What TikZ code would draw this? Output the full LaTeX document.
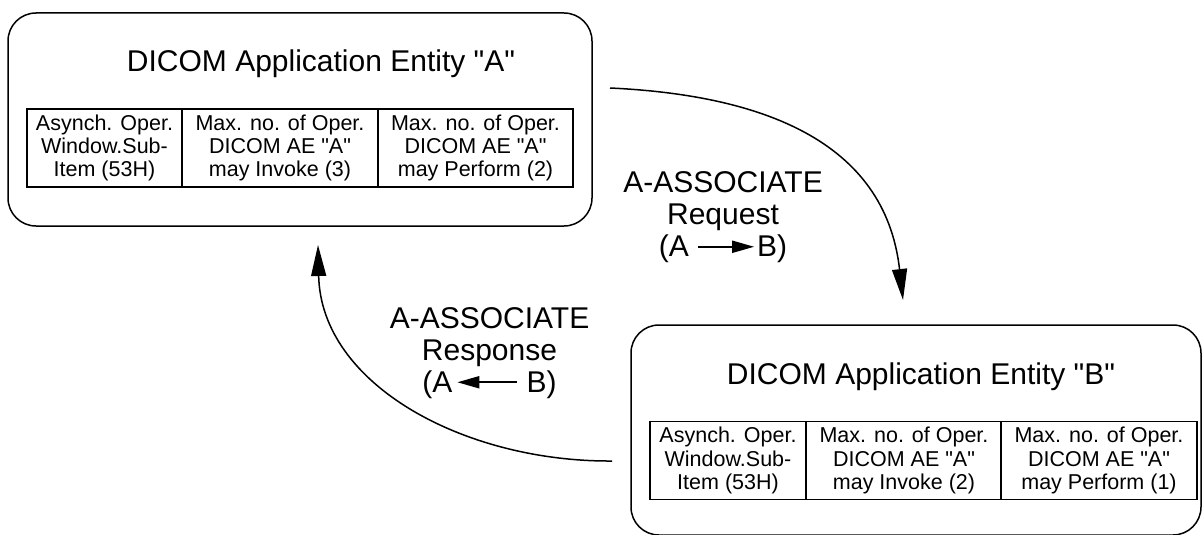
\documentclass[tikz,border=0pt]{standalone}
\usepackage{fontspec}
\setmainfont{Liberation Sans}[Ligatures=TeXOff]
\usetikzlibrary{arrows.meta}
\begin{document}
\begin{tikzpicture}[x=1pt,y=-1pt,
  entity/.style={draw, line width=1.5pt, rounded corners=28pt, inner sep=0pt},
  cell/.style={draw, line width=1.5pt, minimum height=78pt, inner sep=0pt, align=center,
               font=\fontsize{21.5}{23.3}\selectfont},
  ttl/.style={font=\fontsize{30}{32}\selectfont, anchor=base},
  lab/.style={font=\fontsize{30}{32}\selectfont, align=center},
  flow/.style={line width=1.5pt, -{Triangle[length=31pt,width=15pt]}}]
\useasboundingbox (0,0) rectangle (1203,535);

% Entity A
\node[entity, minimum width=584pt, minimum height=213pt] (A) at (300,119.5) {};
\node[ttl] (tA) at (321,72) {DICOM Application Entity "A"};
\node[cell, minimum width=155pt] (a1) at (104.5,148) {Asynch. Oper.\\Window.Sub-\\Item (53H)};
\node[cell, minimum width=196pt] (a2) at (280,148) {Max. no. of Oper.\\DICOM AE "A"\\may Invoke (3)};
\node[cell, minimum width=195pt] (a3) at (475.5,148) {Max. no. of Oper.\\DICOM AE "A"\\may Perform (2)};

% Entity B
\node[entity, minimum width=570pt, minimum height=210pt] (B) at (916,430) {};
\node[ttl] (tB) at (921,384) {DICOM Application Entity "B"};
\node[cell, minimum width=156pt] (b1) at (728,460.5) {Asynch. Oper.\\Window.Sub-\\Item (53H)};
\node[cell, minimum width=195pt] (b2) at (904,460.5) {Max. no. of Oper.\\DICOM AE "A"\\may Invoke (2)};
\node[cell, minimum width=196pt] (b3) at (1099,460.5) {Max. no. of Oper.\\DICOM AE "A"\\may Perform (1)};

% connectors
\coordinate (reqS) at (610,88);
\coordinate (reqE) at (903,300);
\coordinate (resS) at (612,461);
\coordinate (resE) at (318,245);
\draw[flow] (reqS) .. controls (760,95) and (885,140) .. (reqE);
\draw[flow] (resS) .. controls (465,462) and (321,385) .. (resE);

% labels
\node[lab] (req) at (723,217.4) {A-ASSOCIATE\\Request\\(A \tikz[x=1pt,y=1pt,baseline=-10pt]\draw[line width=2pt,-{Triangle[length=22pt,width=12pt]}] (0,0) -- (56,0);\kern2pt B)};
\node[lab] (res) at (489.5,352.9) {A-ASSOCIATE\\Response\\(A\kern4pt\tikz[x=1pt,y=1pt,baseline=-10pt]\draw[line width=2pt,{Triangle[length=22pt,width=12pt]}-] (0,0) -- (60,0); B)};
\end{tikzpicture}
\end{document}
